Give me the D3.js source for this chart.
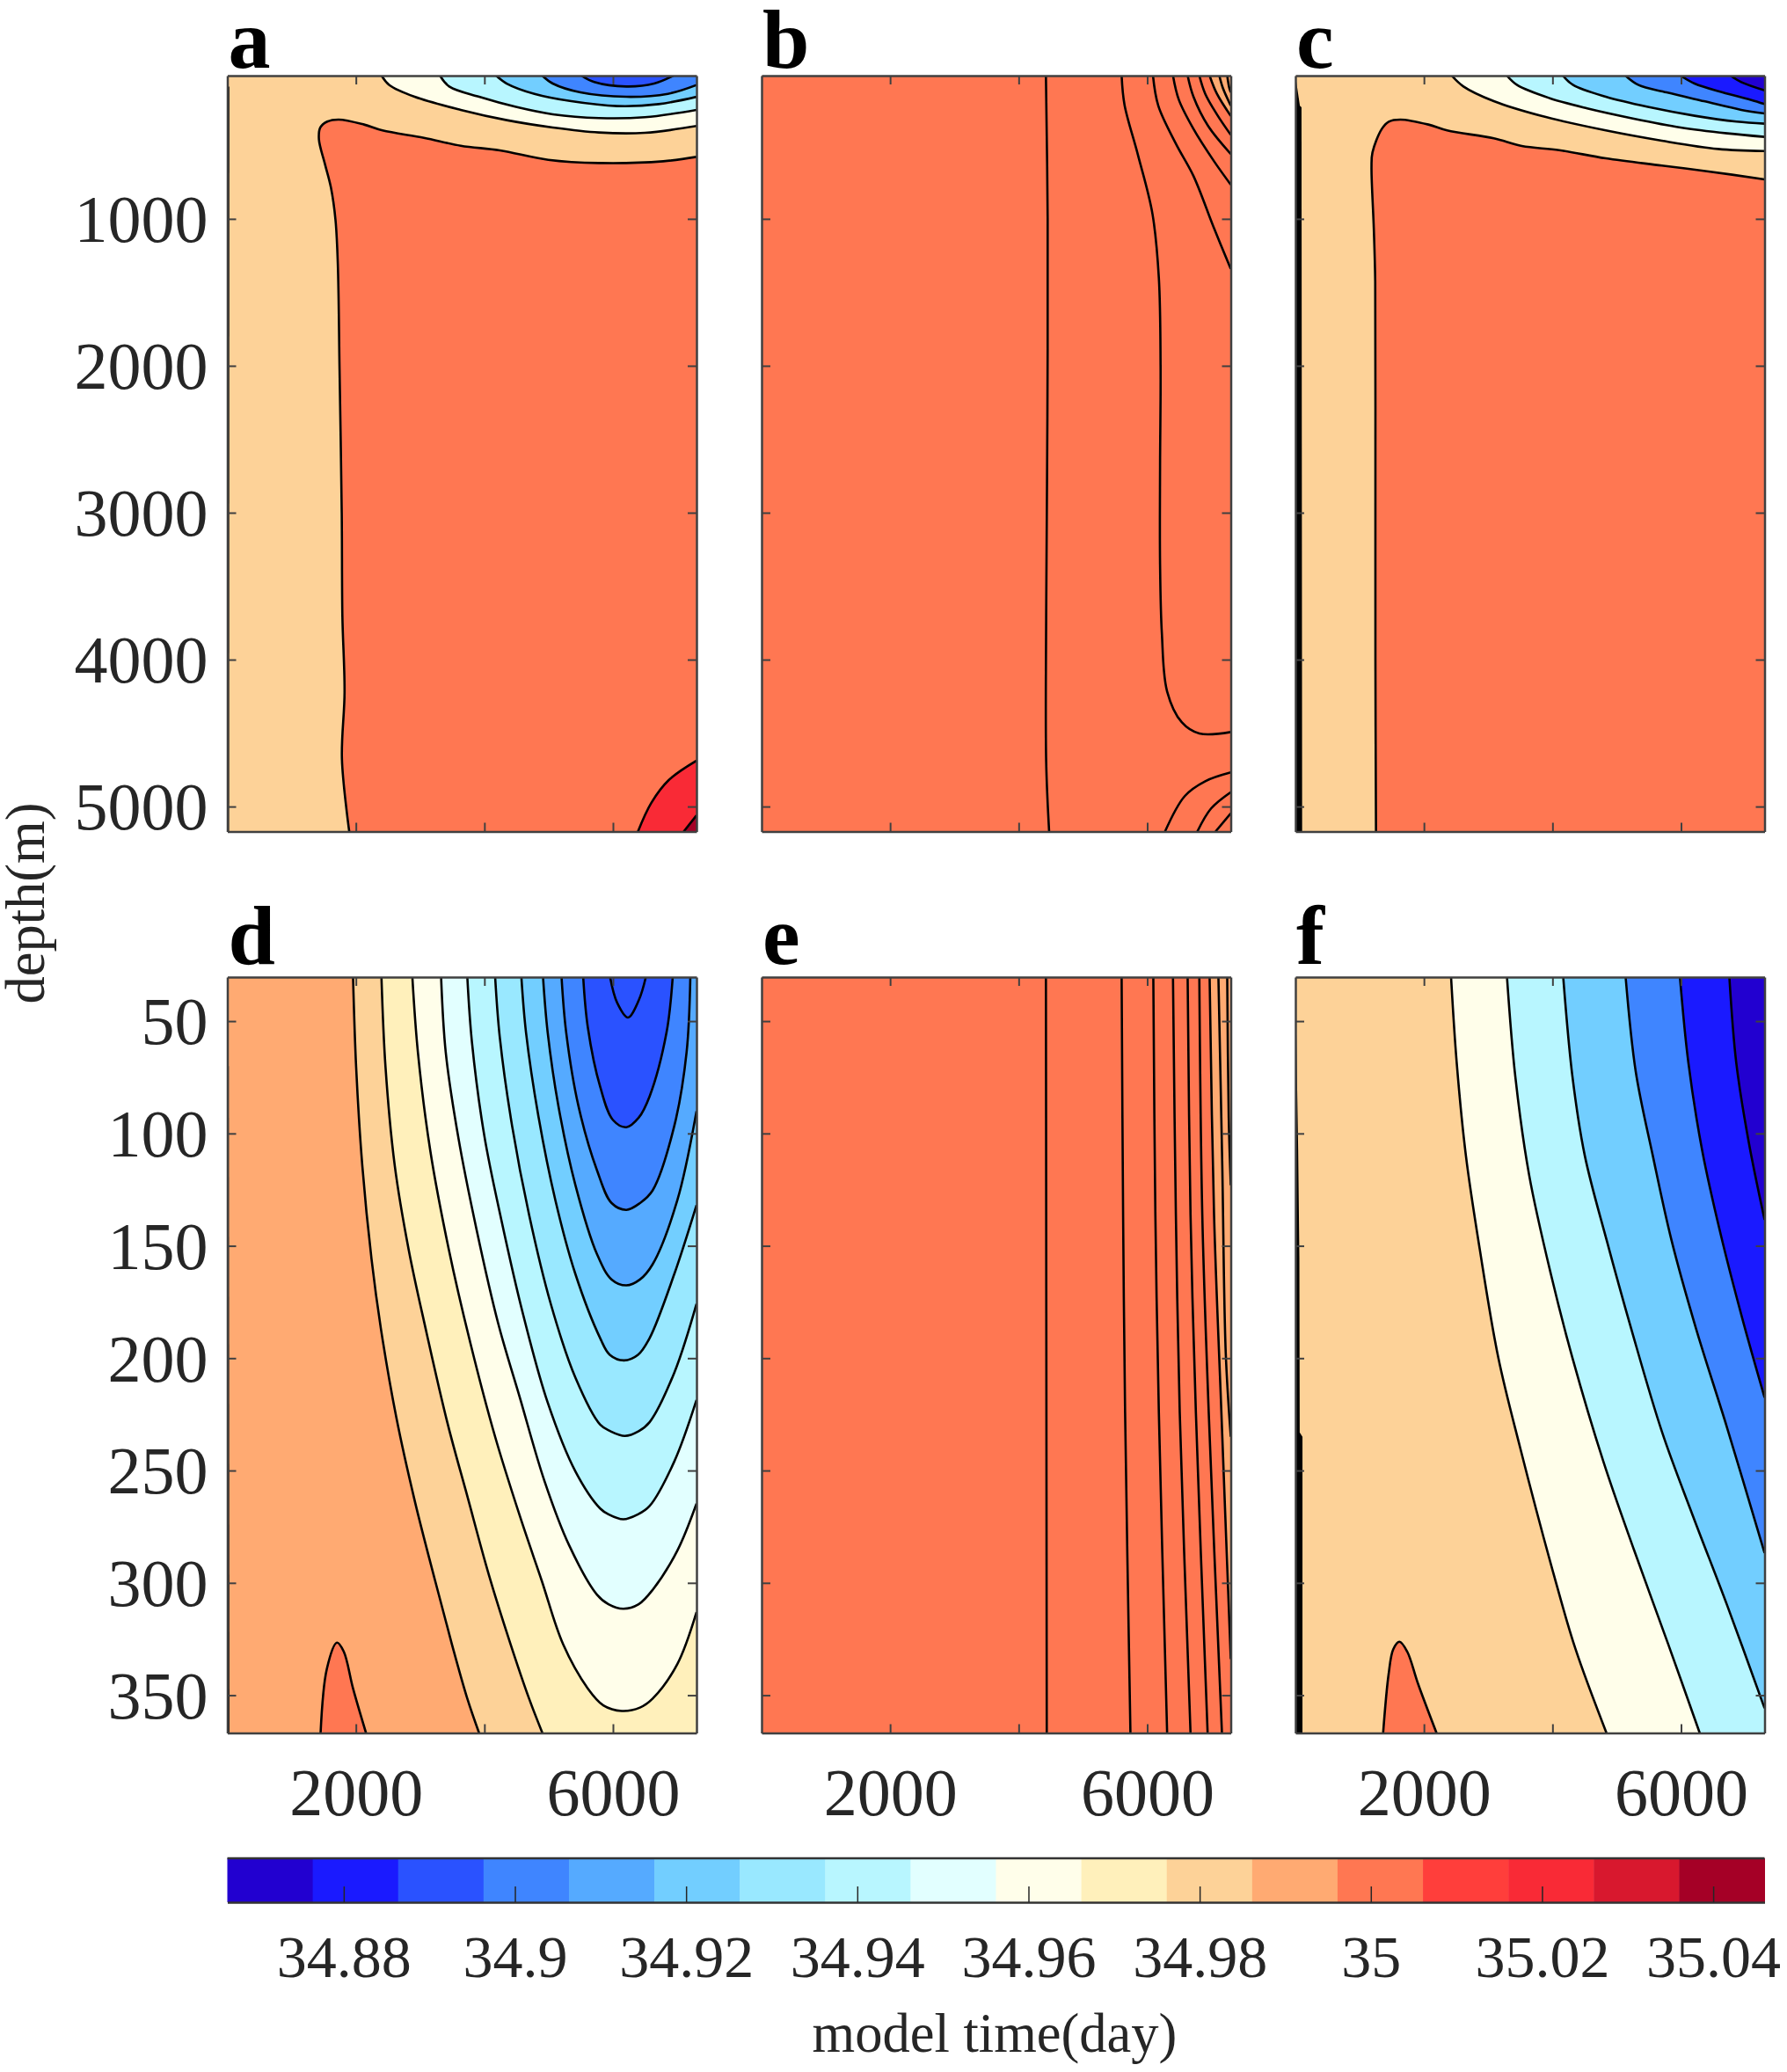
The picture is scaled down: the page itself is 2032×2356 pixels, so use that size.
<!DOCTYPE html>
<html>
<head>
<meta charset="utf-8">
<script src="https://cdn.jsdelivr.net/npm/d3@7"></script>
<style>
body { margin: 0; background: #fff; }
text { font-family: "Liberation Serif", serif; fill: #262626; }
</style>
</head>
<body>
<script>
//Axis values
var dayDomain = [0, 7300];
var deepDomain = [25, 5170];
var upperDomain = [30.4, 366.8];
var dayTicks = [2000, 4000, 6000];
var dayLabels = [2000, 6000];
var deepTicks = [1000, 2000, 3000, 4000, 5000];
var upperTicks = [50, 100, 150, 200, 250, 300, 350];

//Colorbar
var barDomain = [34.8664, 35.046];
var barTicks = [34.88, 34.9, 34.92, 34.94, 34.96, 34.98, 35, 35.02, 35.04];
var barColors = ["#2200d0", "#1a1aff", "#2a52ff", "#3f85ff", "#55aaff", "#72ceff", "#99e8ff", "#b8f6ff", "#e2ffff",
                 "#fffeea", "#fff0bb", "#fdd298", "#ffaa72", "#ff7752", "#ff3e3b", "#f92a36", "#d8182e", "#a50026"];

//Panel a, contours as [day, depth]
var aBack = 34.98;
var aLevels = [35, 34.96, 34.94, 34.92, 34.90, 34.89, 35.02, 35.04, null];
var aContours = [
    [[7300,578],[6783,608],[5781,620],[4993,598],[4240,534],[3632,502],[3059,448],[2414,398],[2127,358],[1733,324],[1554,338],[1447,378],[1425,458],[1519,627],[1612,787],[1683,1007],[1719,1306],[1746,2024],[1780,3000],[1790,3700],[1824,4221],[1783,4676],[1897,5170]],
    [[2400,25],[2521,89],[2915,169],[3632,258],[4348,328],[5064,378],[5781,412],[6497,414],[7300,368]],
    [[3309,25],[3453,99],[3918,169],[4491,238],[5064,288],[5781,314],[6497,308],[7300,258]],
    [[4183,25],[4348,79],[4778,149],[5351,199],[6067,232],[6712,219],[7300,169]],
    [[4900,25],[5064,79],[5494,139],[6210,169],[6855,149],[7300,89]],
    [[5508,25],[5709,69],[6210,99],[6640,79],[6941,25]],
    [[7300,4688],[6868,4820],[6595,4976],[6389,5170]],
    [[7300,5060],[7101,5170]],
    [[14,100],[10,5170]]
];

//Panel b
var bBack = 35;
var bLevels = [35, 35, 35, 35, 35, 35, 34.99, 34.99, 34.99, 35, 35, 35];
var bContours = [
    [[4424,25],[4451,997],[4447,2342],[4428,3686],[4428,4695],[4474,5170]],
    [[5602,25],[5647,224],[5853,560],[6081,964],[6181,1401],[6208,2006],[6200,2678],[6200,3350],[6228,3821],[6310,4217],[6537,4426],[6811,4503],[7300,4493]],
    [[6090,25],[6172,229],[6446,488],[6720,708],[7040,1064],[7300,1340]],
    [[6401,25],[6492,189],[6720,388],[7040,608],[7300,767]],
    [[6629,25],[6720,169],[6948,368],[7300,558]],
    [[6811,25],[6903,149],[7085,289],[7300,428]],
    [[6971,25],[7085,149],[7300,299]],
    [[7122,25],[7177,109],[7300,229]],
    [[7245,25],[7277,109],[7300,139]],
    [[7300,4768],[6903,4828],[6584,4929],[6277,5170]],
    [[7300,4902],[6994,5013],[6780,5170]],
    [[7300,5046],[7063,5170]]
];

//Panel c
var cBack = 34.98;
var cLevels = [35, 34.96, 34.94, 34.92, 34.90, 34.88, 34.87];
var cContours = [
    [[7300,731],[6429,677],[5702,637],[4830,588],[4104,532],[3523,504],[3087,452],[2361,398],[2070,358],[1634,324],[1453,338],[1344,388],[1199,548],[1184,647],[1220,1066],[1242,1425],[1245,2500],[1245,4000],[1254,5170]],
    [[2433,25],[2615,99],[3087,199],[3814,298],[4830,398],[5702,468],[6574,524],[7300,538]],
    [[3291,25],[3450,89],[3959,179],[4540,248],[5266,318],[5993,378],[6719,418],[7300,442]],
    [[4162,25],[4322,89],[4830,169],[5484,238],[6211,298],[6864,338],[7300,352]],
    [[5136,25],[5339,89],[5775,139],[6356,199],[6937,258],[7300,282]],
    [[5993,25],[6211,79],[6646,139],[7082,189],[7300,218]],
    [[6770,25],[6937,69],[7300,125]]
];
var cBlack = [[0,25],[70,230],[95,240],[105,5170],[0,5170]];

//Panel d
var dBack = 34.99;
var dLevels = [34.98, 34.97, 34.96, 34.95, 34.94, 34.93, 34.92, 34.91, 34.90, 34.89, 34.89, 35, null];
var dContours = [
    [[1956,30.4],[2004,70.4],[2100,114.3],[2244,156],[2389,186.8],[2629,226.3],[2917,263.6],[3230,298.7],[3494,327.3],[3734,351.5],[3917,366.8]],
    [[2398,30.4],[2461,70.4],[2605,114.3],[2821,151.6],[3085,186.8],[3422,228.5],[3734,261.4],[4071,296.6],[4407,327.3],[4695,351.5],[4902,366.8]],
    [[2879,30.4],[2965,63.8],[3158,107.7],[3446,151.6],[3782,193.3],[4167,235],[4551,270.2],[4888,298.7],[5224,327.3],[5609,347],[5850,354.5],[6137,357],[6420,355.5],[6618,351.5],[7002,336.1],[7300,313]],
    [[3326,30.4],[3398,63.8],[3590,101.1],[3878,142.8],[4215,184.6],[4551,217.5],[4936,254.8],[5320,283.4],[5753,305.3],[5930,309.5],[6161,311.5],[6400,309.5],[6618,303.1],[7002,285.6],[7300,264.7]],
    [[3734,30.4],[3806,59.4],[3999,101.1],[4263,138.4],[4599,180.2],[4984,219.7],[5416,250.4],[5801,266.9],[5930,269.5],[6161,271.7],[6390,269.5],[6570,265.8],[6954,246],[7300,218.6]],
    [[4167,30.4],[4239,57.2],[4431,96.7],[4695,136.2],[5032,175.8],[5416,208.7],[5801,229.6],[5960,232.5],[6185,234.6],[6400,232.5],[6570,228.5],[6954,206.5],[7300,175.8]],
    [[4575,30.4],[4647,55],[4840,92.3],[5104,129.7],[5416,162.6],[5801,191.1],[5950,198.5],[6171,201],[6390,198.5],[6570,191.1],[6954,162.6],[7300,131.9]],
    [[4912,30.4],[4984,55],[5152,87.9],[5416,123],[5753,153.8],[5980,165],[6209,167.6],[6420,165],[6618,158.2],[7002,129.7],[7300,90.1]],
    [[5200,30.4],[5272,55],[5464,87.9],[5753,116.5],[5980,131],[6209,134],[6420,131],[6618,125.3],[6954,96.7],[7146,63.8],[7204,30.4]],
    [[5537,30.4],[5609,52.8],[5801,79.2],[6000,94],[6209,97.2],[6400,93],[6570,83.5],[6834,55],[6930,30.4]],
    [[5955,30.4],[6065,41.8],[6233,48.4],[6402,40.7],[6512,30.4]],
    [[1451,366.8],[1548,338.3],[1706,326.6],[1812,330.6],[1956,347],[2158,366.8]],
    [[5,70],[15,366.8]]
];

//Panel e
var eBack = 35;
var eLevels = [35, 35, 35, 35, 35, 35, 34.99, 34.99, 34.99];
var eContours = [
    [[4424,30.4],[4430,180],[4437,366.8]],
    [[5602,30.4],[5625,136.2],[5656,224],[5739,366.8]],
    [[6095,30.4],[6127,136.2],[6181,224],[6310,366.8]],
    [[6401,30.4],[6446,136.2],[6506,224],[6674,366.8]],
    [[6629,30.4],[6674,136.2],[6757,224],[6940,366.8]],
    [[6811,30.4],[6857,136.2],[6957,224],[7163,366.8]],
    [[6971,30.4],[7040,136.2],[7154,224],[7300,333.9]],
    [[7108,30.4],[7168,114.3],[7222,197.7],[7300,235]],
    [[7245,30.4],[7268,92.3],[7300,123]]
];

//Panel f
var fBack = 34.98;
var fLevels = [34.96, 34.94, 34.92, 34.90, 34.88, 34.87, 35];
var fContours = [
    [[2422,30.4],[2509,68.2],[2653,109.9],[2869,151.6],[3158,199.9],[3494,239.5],[4023,296.6],[4359,329.5],[4840,366.8]],
    [[3292,30.4],[3422,74.8],[3638,118.7],[3975,162.6],[4311,199.9],[4792,246],[5272,285.6],[5801,327.3],[6291,366.8]],
    [[4167,30.4],[4311,74.8],[4503,109.9],[4840,147.2],[5224,186.8],[5705,232.9],[6185,270.2],[6714,309.7],[7300,355.8]],
    [[5138,30.4],[5296,72.6],[5561,109.9],[5849,147.2],[6233,186.8],[6714,230.7],[7300,286.7]],
    [[5983,30.4],[6113,68.2],[6330,107.7],[6618,145],[6954,182.4],[7300,217.5]],
    [[6752,30.4],[6858,68.2],[7050,103.3],[7300,138.4]],
    [[1365,366.8],[1451,340.5],[1523,329.5],[1620,326.2],[1740,330.6],[1908,344.9],[2196,366.8]]
];
var fBlack = [[0,30.4],[24,74],[43,107],[62,155],[67,233],[110,235],[110,366.8],[0,366.8]];

var panelLeft = [258.5, 866, 1473];
var panelTop = [86, 1111];
var panelWidth = 533.5;
var panelHeight = 859.5;

var panels = [
    {name: "a", col: 0, row: 0, back: aBack, levels: aLevels, lines: aContours},
    {name: "b", col: 1, row: 0, back: bBack, levels: bLevels, lines: bContours},
    {name: "c", col: 2, row: 0, back: cBack, levels: cLevels, lines: cContours, black: cBlack},
    {name: "d", col: 0, row: 1, back: dBack, levels: dLevels, lines: dContours},
    {name: "e", col: 1, row: 1, back: eBack, levels: eLevels, lines: eContours},
    {name: "f", col: 2, row: 1, back: fBack, levels: fLevels, lines: fContours, black: fBlack}
];

var color = d3.scaleQuantize().domain(barDomain).range(barColors);

var svg = d3.select("body").append("svg")
    .attr("width", 2032)
    .attr("height", 2356);

function styleAxis(g) {
    g.selectAll("path.domain").attr("stroke", "#404040").attr("stroke-width", 2.5);
    g.selectAll(".tick line").attr("stroke", "#404040").attr("stroke-width", 2);
    g.selectAll("text").attr("font-family", null).attr("font-size", 76);
}

function drawPanel(p) {
    var x = d3.scaleLinear().domain(dayDomain).range([0, panelWidth]);
    var yDomain = p.row == 0 ? deepDomain : upperDomain;
    var y = d3.scaleLinear().domain(yDomain).range([0, panelHeight]);

    var g = svg.append("g")
        .attr("transform", "translate(" + panelLeft[p.col] + "," + panelTop[p.row] + ")");

    g.append("clipPath").attr("id", "clip" + p.name)
        .append("rect").attr("width", panelWidth).attr("height", panelHeight);

    var plot = g.append("g").attr("clip-path", "url(#clip" + p.name + ")");

    plot.append("rect")
        .attr("x", x(dayDomain[0]))
        .attr("y", y(yDomain[0]))
        .attr("width", x(dayDomain[1]) - x(dayDomain[0]))
        .attr("height", y(yDomain[1]) - y(yDomain[0]))
        .attr("fill", color(p.back));

    var line = d3.line()
        .x(function(d) { return x(d[0]); })
        .y(function(d) { return y(d[1]); })
        .curve(d3.curveCatmullRom.alpha(0.5));

    // close a contour along the right side of the panel
    function region(pts) {
        var first = pts[0], last = pts[pts.length - 1];
        var top0 = first[1] == yDomain[0], top1 = last[1] == yDomain[0];
        var bot0 = first[1] == yDomain[1], bot1 = last[1] == yDomain[1];
        var path = line(pts);
        if ((top0 && top1) || (bot0 && bot1)) return path + "Z";
        if (bot0 || bot1) path += "L" + x(dayDomain[1]) + "," + y(yDomain[1]);
        if (top0 || top1) path += "L" + x(dayDomain[1]) + "," + y(yDomain[0]);
        return path + "Z";
    }

    p.lines.forEach(function(pts, i) {
        if (p.levels[i] != null) {
            plot.append("path").attr("d", region(pts)).attr("fill", color(p.levels[i]));
        }
    });
    p.lines.forEach(function(pts) {
        plot.append("path")
            .attr("d", line(pts))
            .attr("fill", "none")
            .attr("stroke", "#000")
            .attr("stroke-width", 2.6);
    });

    if (p.black) {
        plot.append("path")
            .attr("d", d3.line().x(function(d) { return x(d[0]); }).y(function(d) { return y(d[1]); })(p.black) + "Z")
            .attr("fill", "#000");
    }

    var yTicks = p.row == 0 ? deepTicks : upperTicks;

    g.append("g").call(d3.axisLeft(y).tickValues(yTicks).tickSizeInner(-10).tickSizeOuter(0).tickPadding(22)
        .tickFormat(function(d) { return p.col == 0 ? d : ""; })).call(styleAxis)
        .selectAll("text").attr("dy", "0.34em");
    g.append("g").attr("transform", "translate(" + panelWidth + ",0)")
        .call(d3.axisRight(y).tickValues(yTicks).tickSizeInner(-10).tickSizeOuter(0).tickFormat("")).call(styleAxis);
    g.append("g").call(d3.axisTop(x).tickValues(dayTicks).tickSizeInner(-10).tickSizeOuter(0).tickFormat("")).call(styleAxis);
    g.append("g").attr("transform", "translate(0," + panelHeight + ")")
        .call(d3.axisBottom(x).tickValues(dayTicks).tickSizeInner(-10).tickSizeOuter(0).tickPadding(40)
        .tickFormat(function(d) { return p.row == 1 && dayLabels.indexOf(d) >= 0 ? d : ""; })).call(styleAxis);

    // panel letter
    g.append("text")
        .attr("x", 1)
        .attr("y", p.row == 0 ? -9 : -15)
        .attr("font-size", 96)
        .attr("font-weight", "bold")
        .style("fill", "#000")
        .text(p.name);
}

panels.forEach(drawPanel);

//Colorbar
var barTop = 2113;
var barHeight = 50;
var barX = d3.scaleLinear().domain(barDomain).range([258.5, 2006.5]);
var barStep = (barDomain[1] - barDomain[0]) / barColors.length;

var bar = svg.append("g").attr("transform", "translate(0," + barTop + ")");
bar.selectAll("rect.band").data(barColors).enter().append("rect")
    .attr("class", "band")
    .attr("x", function(d, i) { return barX(barDomain[0] + i * barStep); })
    .attr("y", 0)
    .attr("width", barX(barDomain[0] + barStep) - barX(barDomain[0]) + 0.5)
    .attr("height", barHeight)
    .attr("fill", function(d) { return d; });

bar.append("g").attr("transform", "translate(0," + barHeight + ")")
    .call(d3.axisBottom(barX).tickValues(barTicks).tickSizeInner(-18).tickSizeOuter(0).tickPadding(36.5)
    .tickFormat(function(d) { return +d.toFixed(2); })).call(styleAxis);
bar.selectAll(".tick line").attr("stroke", "#262626").attr("stroke-width", 1.5);
bar.selectAll("path.domain").attr("stroke", "#333");
bar.selectAll(".tick text").attr("font-size", 68);
bar.append("line")
    .attr("x1", barX(barDomain[0])).attr("x2", barX(barDomain[1]))
    .attr("y1", 0).attr("y2", 0)
    .attr("stroke", "#333").attr("stroke-width", 2.5);

//Axis titles
svg.append("text")
    .attr("x", 1131)
    .attr("y", 2333)
    .attr("text-anchor", "middle")
    .attr("font-size", 62.5)
    .text("model time(day)");

svg.append("text")
    .attr("transform", "translate(50,1027) rotate(-90)")
    .attr("text-anchor", "middle")
    .attr("font-size", 62.5)
    .text("depth(m)");
</script>
</body>
</html>
